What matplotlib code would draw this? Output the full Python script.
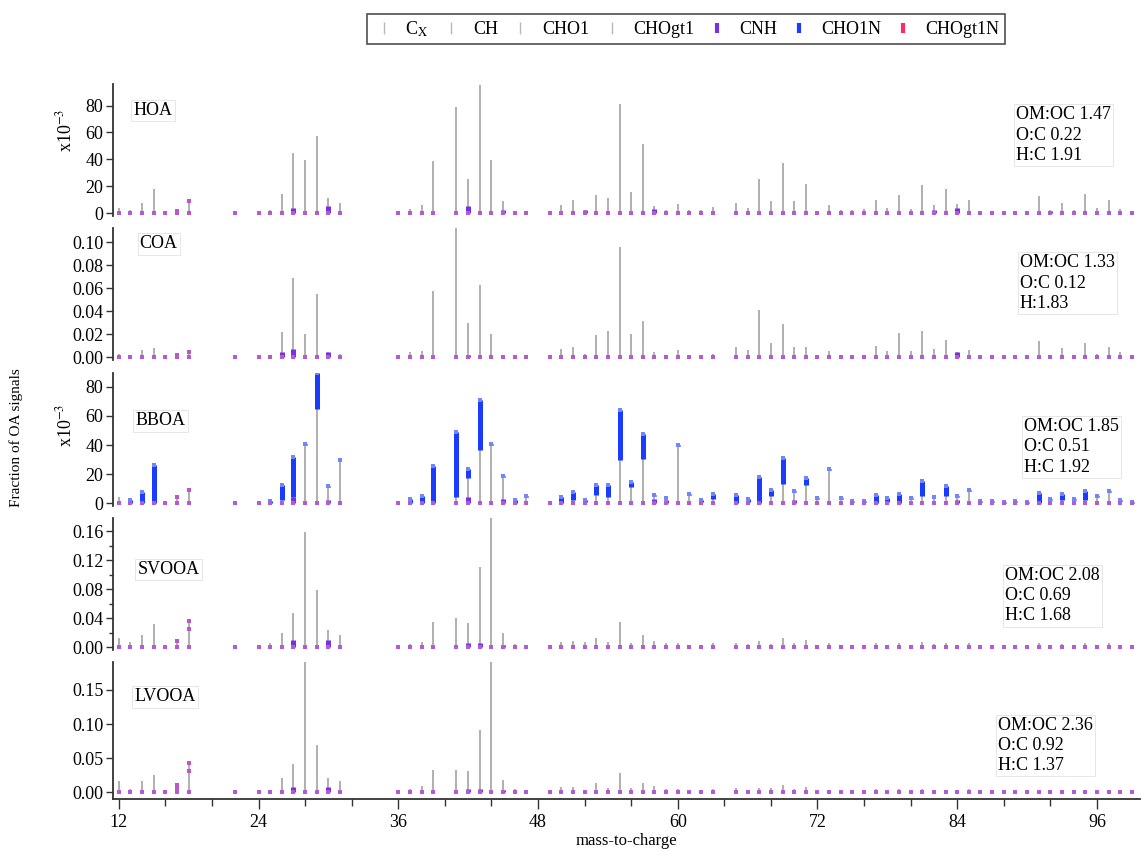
import numpy as np
import matplotlib
matplotlib.use('Agg')
import matplotlib.pyplot as plt
from matplotlib.lines import Line2D
from matplotlib.ticker import MultipleLocator, FormatStrFormatter

plt.rcParams['font.family'] = ['Liberation Serif', 'DejaVu Serif']
plt.rcParams['mathtext.fontset'] = 'stix'

# m/z positions of the sticks
mz = [12, 13, 14, 15, 16, 17, 18,
      22,
      24, 25, 26, 27, 28, 29, 30, 31,
      36, 37, 38, 39,
      41, 42, 43, 44, 45, 46, 47,
      49, 50, 51, 52, 53, 54, 55, 56, 57, 58, 59, 60, 61, 62, 63,
      65, 66, 67, 68, 69, 70, 71, 72, 73, 74, 75, 76, 77, 78, 79, 80, 81, 82,
      83, 84, 85, 86, 87, 88, 89, 90, 91, 92, 93, 94, 95, 96, 97, 98, 99]

# total stick heights (HOA, BBOA in x10^-3)
hoa_total = [4, 2, 7.5, 18, 0.3, 1.5, 8.6,
             0,
             0.5, 2, 14, 45, 39.6, 57.5, 11.4, 7.4,
             0.5, 3, 6, 38.4,
             78.8, 25.5, 95, 39.6, 8.6, 1, 0.3,
             1, 6, 9.4, 2, 13.4, 11.4, 80.8, 15.9, 51.5, 5, 2, 6.5, 2.5, 2.3, 4.7,
             7.6, 3.5, 25.5, 8.6, 37, 9, 21.8, 1, 6, 2.5, 2.5, 3, 10, 4, 13.4, 3, 20.8, 5.9,
             17.8, 6.7, 10, 1, 1.5, 1, 1.5, 1, 12.4, 2.5, 7.4, 2.5, 14.1, 3.5, 9.4, 3, 1.5]
coa_total = [0.003, 0.002, 0.006, 0.008, 0.0005, 0.002, 0.004,
             0,
             0.001, 0.002, 0.022, 0.069, 0.02, 0.055, 0.004, 0.003,
             0.001, 0.004, 0.005, 0.057,
             0.115, 0.03, 0.063, 0.02, 0.002, 0.001, 0.001,
             0.002, 0.007, 0.009, 0.003, 0.019, 0.023, 0.096, 0.02, 0.031, 0.004, 0.002, 0.006, 0.002, 0.002, 0.003,
             0.009, 0.006, 0.041, 0.012, 0.029, 0.009, 0.009, 0.002, 0.005, 0.002, 0.002, 0.002, 0.01, 0.005,
             0.021, 0.005, 0.023, 0.007, 0.015, 0.004, 0.006, 0.002, 0.002, 0.002, 0.002, 0.002, 0.014, 0.002,
             0.008, 0.002, 0.012, 0.003, 0.009, 0.004, 0.002]
bboa_total = [4.5, 2.3, 7.3, 26.3, 0.3, 4, 9,
              0,
              0.3, 1.5, 12.5, 31.5, 40.4, 89.5, 11.9, 30,
              0.3, 2.5, 5, 25.6,
              49, 23.5, 70.8, 40.4, 18.7, 2, 5,
              0.3, 4.5, 7.5, 2.3, 12.8, 12.8, 64, 14.6, 47.5, 5.5, 3.8, 40, 6.5, 2, 6.5,
              5.5, 3, 17.8, 9, 30.8, 8.4, 17, 3.4, 23.3, 3.4, 1.5, 1.5, 5.5, 3.4, 6.4, 3.4, 15.5, 4.5,
              11.9, 4.8, 9.2, 1.5, 1.5, 1, 1.5, 1, 6.8, 2.5, 6.4, 2.5, 8.4, 4.8, 8.4, 2, 1]
svooa_total = [0.013, 0.007, 0.017, 0.032, 0.002, 0.008, 0.036,
               0,
               0.002, 0.005, 0.02, 0.047, 0.158, 0.079, 0.024, 0.016,
               0.001, 0.004, 0.007, 0.035,
               0.04, 0.033, 0.11, 0.185, 0.02, 0.004, 0.002,
               0.002, 0.007, 0.008, 0.007, 0.013, 0.007, 0.035, 0.006, 0.017, 0.009, 0.005, 0.006, 0.003, 0.003, 0.005,
               0.005, 0.004, 0.009, 0.004, 0.013, 0.006, 0.01, 0.002, 0.005, 0.003, 0.003, 0.003, 0.006, 0.003,
               0.006, 0.003, 0.007, 0.004, 0.006, 0.003, 0.006, 0.002, 0.003, 0.002, 0.003, 0.002, 0.005, 0.002,
               0.004, 0.002, 0.005, 0.003, 0.005, 0.002, 0.002]
lvooa_total = [0.017, 0.005, 0.016, 0.025, 0.002, 0.011, 0.042,
               0,
               0.002, 0.004, 0.021, 0.042, 0.2, 0.069, 0.021, 0.016,
               0.001, 0.005, 0.009, 0.033,
               0.033, 0.031, 0.091, 0.2, 0.018, 0.005, 0.003,
               0.003, 0.008, 0.008, 0.004, 0.014, 0.006, 0.029, 0.006, 0.014, 0.009, 0.005, 0.005, 0.003, 0.003, 0.005,
               0.006, 0.003, 0.006, 0.006, 0.01, 0.005, 0.008, 0.002, 0.004, 0.003, 0.003, 0.003, 0.005, 0.003,
               0.005, 0.003, 0.005, 0.003, 0.004, 0.003, 0.005, 0.002, 0.003, 0.002, 0.003, 0.002, 0.004, 0.002,
               0.003, 0.002, 0.004, 0.002, 0.004, 0.002, 0.002]

# blue (CHO1N) part, stacked on top of the stick - BBOA only
bboa_cho1n = [0, 2.3, 7.3, 26.3, 0, 0, 0,
              0,
              0, 1.5, 10.5, 27, 0.6, 24.5, 0.6, 0.6,
              0, 2.5, 5, 25.6,
              45, 6.5, 34, 0.6, 0.6, 2, 0.6,
              0, 4.5, 5.5, 1.5, 7.3, 8.3, 34, 3.6, 17, 0.6, 0.6, 0.6, 0.6, 1.5, 3.5,
              5.5, 2, 17.8, 4, 17.6, 0.6, 4.5, 0.6, 0.6, 0.6, 0.6, 0.6, 5.5, 2.4, 6.4, 0.6, 10.5, 0.6,
              7, 0.6, 0.6, 0.6, 0.6, 0.6, 0.6, 0.6, 6.8, 0.6, 4.4, 0.6, 6.4, 0.6, 0.6, 0.6, 0.6]

# purple (CNH) part at the base of the stick, {m/z: height}
hoa_cnh = {27: 4, 30: 5, 42: 5.4, 45: 2, 52: 2, 58: 3, 82: 2, 84: 4, 92: 1.5}
coa_cnh = {26: 0.004, 27: 0.007, 30: 0.004, 42: 0.002, 84: 0.004}
bboa_cnh = {27: 4.5, 30: 2, 42: 4, 45: 3, 58: 3, 59: 2, 70: 2, 84: 2}
svooa_cnh = {27: 0.01, 30: 0.01, 42: 0.005, 43: 0.005, 45: 0.003}
lvooa_cnh = {27: 0.008, 30: 0.008, 42: 0.005, 43: 0.005, 45: 0.004}

# extra pink caps at m/z 17/18
hoa_marks = [(17, 1.5), (18, 8.6)]
coa_marks = [(17, 0.002), (18, 0.004)]
bboa_marks = [(17, 4), (18, 9)]
svooa_marks = [(17, 0.008), (18, 0.025), (18, 0.036)]
lvooa_marks = [(17, 0.006), (17, 0.0105), (18, 0.031), (18, 0.0425)]

names = ['HOA', 'COA', 'BBOA', 'SVOOA', 'LVOOA']
ratios = [['OM:OC 1.47', 'O:C 0.22', 'H:C 1.91'],
          ['OM:OC 1.33', 'O:C 0.12', 'H:1.83'],
          ['OM:OC 1.85', 'O:C 0.51', 'H:C 1.92'],
          ['OM:OC 2.08', 'O:C 0.69', 'H:C 1.68'],
          ['OM:OC 2.36', 'O:C 0.92', 'H:C 1.37']]
totals = [hoa_total, coa_total, bboa_total, svooa_total, lvooa_total]
cnhs = [hoa_cnh, coa_cnh, bboa_cnh, svooa_cnh, lvooa_cnh]
marks = [hoa_marks, coa_marks, bboa_marks, svooa_marks, lvooa_marks]

GRAY = '#a9a9a9'
PURPLE = '#7a30e0'
BLUE = '#1a3cff'
PINK = '#ff2a6a'
BASE = '#b45ad2'

W, H = 1142, 851
fig = plt.figure(figsize=(W / 100, H / 100), dpi=100)

# panel geometry in pixels: (top, bottom), ylim, label pos, ratio pos
geom = [
    ((84, 216), (-2.2, 96), (0.02, 0.80), (0.879, 0.83)),
    ((228, 360), (-0.0026, 0.1122), (0.026, 0.88), (0.883, 0.80)),
    ((373, 506), (-2.0, 89.6), (0.022, 0.64), (0.887, 0.66)),
    ((518, 650), (-0.0041, 0.178), (0.024, 0.61), (0.869, 0.63)),
    ((662, 799), (-0.0098, 0.191), (0.021, 0.745), (0.862, 0.60)),
]
left_px, right_px = 113, 1140

x = np.array(mz)
for k in range(5):
    (tp, bp), ylim, lpos, rpos = geom[k]
    ax = fig.add_axes([left_px / W, 1 - bp / H, (right_px - left_px) / W, (bp - tp) / H])
    tot = np.array(totals[k], dtype=float)
    # grey stick
    ax.vlines(x, 0, tot, color=GRAY, lw=1.3, zorder=2)
    # blue on top
    if k == 2:
        blue = np.array(bboa_cho1n, dtype=float)
        m = blue > 0
        ax.vlines(x[m], tot[m] - blue[m], tot[m], color=BLUE, lw=3.6, zorder=3)
        ax.plot(x[m], tot[m], 's', ms=2.8, color='#6f86ff', mew=0, zorder=4)
    # purple at base
    cx = np.array(list(cnhs[k].keys()))
    cy = np.array(list(cnhs[k].values()))
    ax.vlines(cx, 0, cy, color=PURPLE, lw=3.6, zorder=3)
    # base dots and caps
    ax.plot(x, np.zeros_like(x), 's', ms=2.8, color=BASE, mew=0, zorder=5, clip_on=False)
    mx = [p[0] for p in marks[k]]
    my = [p[1] for p in marks[k]]
    ax.plot(mx, my, 's', ms=3.4, color='#c055c8', mew=0, zorder=5)

    ax.set_xlim(11.5, 99.7)
    ax.set_ylim(*ylim)
    for s in ['top', 'right']:
        ax.spines[s].set_visible(False)
    ax.spines['left'].set_linewidth(1.3)
    ax.spines['left'].set_color('#333333')
    ax.tick_params(axis='y', direction='out', length=5, width=1, labelsize=13, pad=2, color='#333333')

    if k in (0, 2):
        ax.yaxis.set_major_locator(MultipleLocator(20))
        ax.yaxis.set_major_formatter(FormatStrFormatter('%d'))
    elif k == 1:
        ax.yaxis.set_major_locator(MultipleLocator(0.02))
        ax.yaxis.set_major_formatter(FormatStrFormatter('%.2f'))
    elif k == 3:
        ax.yaxis.set_major_locator(MultipleLocator(0.04))
        ax.yaxis.set_minor_locator(MultipleLocator(0.02))
        ax.yaxis.set_major_formatter(FormatStrFormatter('%.2f'))
        ax.tick_params(axis='y', which='minor', length=3, width=1, color='#333333')
    else:
        ax.yaxis.set_major_locator(MultipleLocator(0.05))
        ax.yaxis.set_major_formatter(FormatStrFormatter('%.2f'))

    if k < 4:
        ax.spines['bottom'].set_visible(False)
        ax.set_xticks([])
    else:
        ax.spines['bottom'].set_linewidth(1.3)
        ax.spines['bottom'].set_color('#333333')
        ax.set_xticks([12, 24, 36, 48, 60, 72, 84, 96])
        ax.xaxis.set_minor_locator(MultipleLocator(4))
        ax.tick_params(axis='x', which='major', direction='out', length=7, width=1,
                       labelsize=13, color='#333333')
        ax.tick_params(axis='x', which='minor', direction='out', length=5, width=1, color='#333333')
        ax.set_xlabel('mass-to-charge', fontsize=12, labelpad=2)

    ax.patch.set_alpha(0)
    ax.text(lpos[0], lpos[1], names[k], transform=ax.transAxes, fontsize=13,
            va='center', ha='left',
            bbox=dict(facecolor='white', edgecolor='#e2e2e2', lw=0.6, boxstyle='square,pad=0.12'))
    ax.text(rpos[0], rpos[1], '\n'.join(ratios[k]), transform=ax.transAxes, fontsize=13,
            va='top', ha='left', linespacing=1.25,
            bbox=dict(facecolor='white', edgecolor='#e2e2e2', lw=0.6, boxstyle='square,pad=0.12'))

fig.text(65 / W, 1 - 130 / H, 'x10$^{-3}$', rotation=90, fontsize=13, ha='center', va='center')
fig.text(65 / W, 1 - 425 / H, 'x10$^{-3}$', rotation=90, fontsize=13, ha='center', va='center')
fig.text(16 / W, 1 - 438 / H, 'Fraction of OA signals', rotation=90, fontsize=11,
         ha='center', va='center')

handles = [Line2D([], [], marker='|', ls='none', ms=9, mew=1, color='#b8b8b8'),
           Line2D([], [], marker='|', ls='none', ms=9, mew=1, color='#b8b8b8'),
           Line2D([], [], marker='|', ls='none', ms=9, mew=1, color='#b8b8b8'),
           Line2D([], [], marker='|', ls='none', ms=9, mew=1, color='#b8b8b8'),
           Line2D([], [], marker='|', ls='none', ms=7, mew=3, color=PURPLE),
           Line2D([], [], marker='|', ls='none', ms=7, mew=3, color=BLUE),
           Line2D([], [], marker='|', ls='none', ms=7, mew=3, color=PINK)]
labels = ['C$_\\mathrm{X}$', 'CH', 'CHO1', 'CHOgt1', 'CNH', 'CHO1N', 'CHOgt1N']
leg = fig.legend(handles, labels, loc='center', bbox_to_anchor=(686 / W, 1 - 29 / H), ncol=7,
                 fontsize=13, frameon=True, fancybox=False, edgecolor='#222222',
                 handlelength=1.2, handletextpad=0.6, columnspacing=0.65, borderpad=0.3)
leg.get_frame().set_linewidth(1.2)

plt.savefig('out.png', dpi=100)
plt.close()
